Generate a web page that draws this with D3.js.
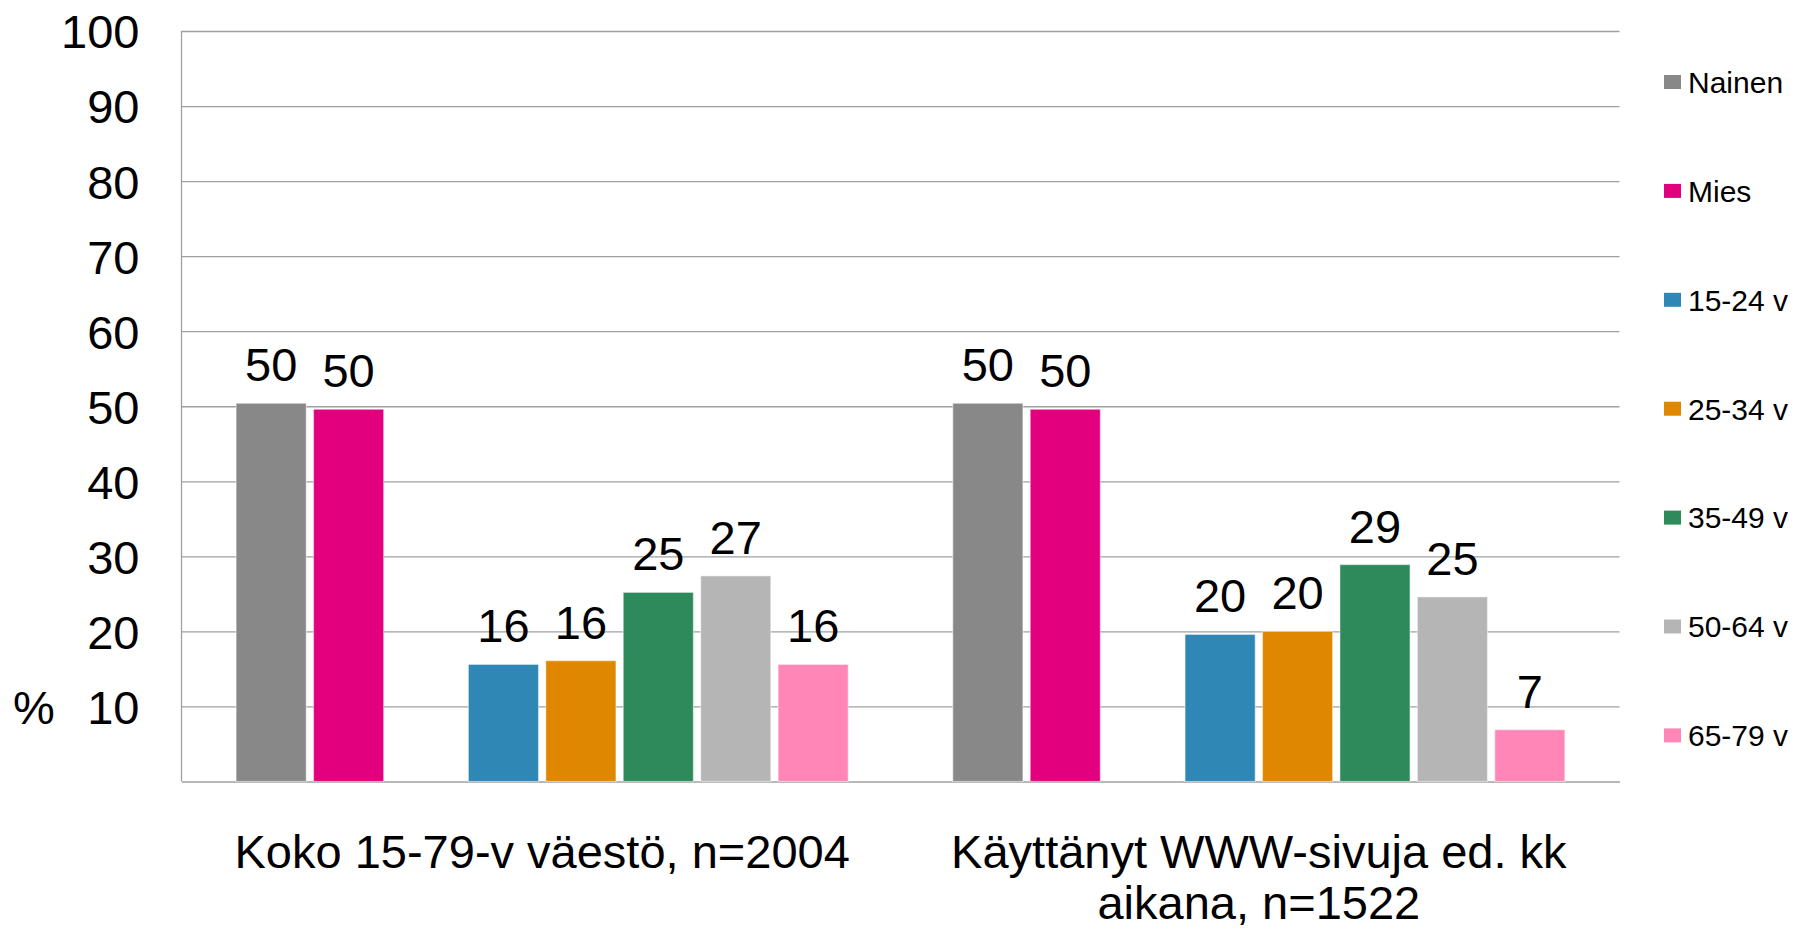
<!DOCTYPE html>
<html>
<head>
<meta charset="utf-8">
<script src="https://cdn.jsdelivr.net/npm/d3@7"></script>
<style>
  body { margin: 0; background: #fff; }
  svg { display: block; font-family: 'Liberation Sans', Arial, sans-serif; }
</style>
</head>
<body>
<div id="chart"></div>
<script>
const categories = ['Koko 15-79-v väestö, n=2004', 'Käyttänyt WWW-sivuja ed. kk aikana, n=1522']
const categoryLines = [['Koko 15-79-v väestö, n=2004'], ['Käyttänyt WWW-sivuja ed. kk', 'aikana, n=1522']]
const series = ['Nainen', 'Mies', '15-24 v', '25-34 v', '35-49 v', '50-64 v', '65-79 v']
const colors = ['#888888', '#e2007f', '#2e87b4', '#e08700', '#2e8a5a', '#b5b5b5', '#ff86b7']
const kokoValues = [50.4, 49.6, 15.6, 16.1, 25.2, 27.4, 15.6]
const kayttanytValues = [50.4, 49.6, 19.6, 20.0, 28.9, 24.6, 6.9]
const yTicks = [10, 20, 30, 40, 50, 60, 70, 80, 90, 100]

// empty slot between the gender bars and the age bars
const slots = [series[0], series[1], '', ...series.slice(2)]
const table = categories.map((c, i) => ({
  category: c,
  lines: categoryLines[i],
  values: series.map((s, j) => ({key: s, value: [kokoValues, kayttanytValues][i][j], color: colors[j]}))
}))

const margin = {top: 31, right: 175.5, bottom: 147.5, left: 181.5}
const width = 1795 - margin.left - margin.right
const height = 929 - margin.top - margin.bottom
const font = 47

const x0 = d3.scaleBand()
  .domain(categories)
  .range([0, width])
  .paddingInner(0.1357)
  .paddingOuter(0.0711)
const x1 = d3.scaleBand()
  .domain(slots)
  .range([0, x0.bandwidth()])
  .paddingInner(0.094)
  .paddingOuter(0.047)
const y = d3.scaleLinear()
  .domain([0, 100])
  .range([height, 0])

const svg = d3.select('#chart')
  .append('svg')
    .attr('width', 1795)
    .attr('height', 929)

const g = svg.append('g')
  .attr('transform', `translate(${margin.left}, ${margin.top})`)

const yAxis = g.append('g')
  .call(d3.axisLeft(y).tickValues(yTicks).tickSize(-width).tickPadding(42))
  .attr('font-size', font)
  .attr('font-family', null)
yAxis.select('.domain').remove()
yAxis.selectAll('line')
  .attr('stroke', '#a0a0a0')
  .attr('stroke-width', 1.3)
yAxis.selectAll('text')
  .attr('fill', '#000')
  .attr('dy', '0.36em')

g.append('line')
  .attr('x1', 0).attr('x2', 0)
  .attr('y1', y(0)).attr('y2', y(100))
  .attr('stroke', '#a0a0a0')
  .attr('stroke-width', 1.3)

const xAxis = g.append('g')
  .attr('transform', `translate(0, ${height})`)
  .call(d3.axisBottom(x0).tickSize(0).tickSizeOuter(0))
  .attr('font-size', font)
  .attr('font-family', null)
xAxis.select('.domain')
  .attr('stroke', '#a0a0a0')
  .attr('stroke-width', 1.5)
xAxis.selectAll('text')
  .attr('fill', '#000')
  .attr('y', 86.5)
  .attr('dy', null)
  .text(null)
  .each(function (d, i) {
    d3.select(this).selectAll('tspan')
      .data(table[i].lines)
      .enter()
        .append('tspan')
          .attr('x', 0)
          .attr('dy', (l, k) => k === 0 ? 0 : 51)
          .text(l => l)
  })

const group = g.selectAll('.group')
  .data(table)
  .enter()
    .append('g')
      .attr('class', 'group')
      .attr('transform', d => `translate(${x0(d.category)}, 0)`)

group.selectAll('rect')
  .data(d => d.values)
  .enter()
    .append('rect')
      .attr('x', d => x1(d.key))
      .attr('y', d => y(d.value))
      .attr('width', x1.bandwidth())
      .attr('height', d => height - y(d.value))
      .attr('fill', d => d.color)
      .attr('stroke', '#fff')
      .attr('stroke-opacity', 0.45)
      .attr('stroke-width', 1.2)

group.selectAll('.label')
  .data(d => d.values)
  .enter()
    .append('text')
      .attr('class', 'label')
      .attr('x', d => x1(d.key) + x1.bandwidth() / 2)
      .attr('y', d => y(d.value) - 22)
      .attr('text-anchor', 'middle')
      .attr('font-size', font)
      .text(d => d3.format('.0f')(d.value))

svg.append('text')
  .attr('x', 13)
  .attr('y', 724)
  .attr('font-size', font)
  .text('%')

const legend = svg.append('g')
  .attr('transform', 'translate(1664, 82)')
const item = legend.selectAll('.item')
  .data(series)
  .enter()
    .append('g')
      .attr('class', 'item')
      .attr('transform', (d, i) => `translate(0, ${i * 108.9})`)
item.append('rect')
  .attr('y', -7)
  .attr('width', 17)
  .attr('height', 14)
  .attr('fill', (d, i) => colors[i])
item.append('text')
  .attr('x', 24)
  .attr('dy', '0.36em')
  .attr('font-size', 30)
  .text(d => d)
</script>
</body>
</html>
